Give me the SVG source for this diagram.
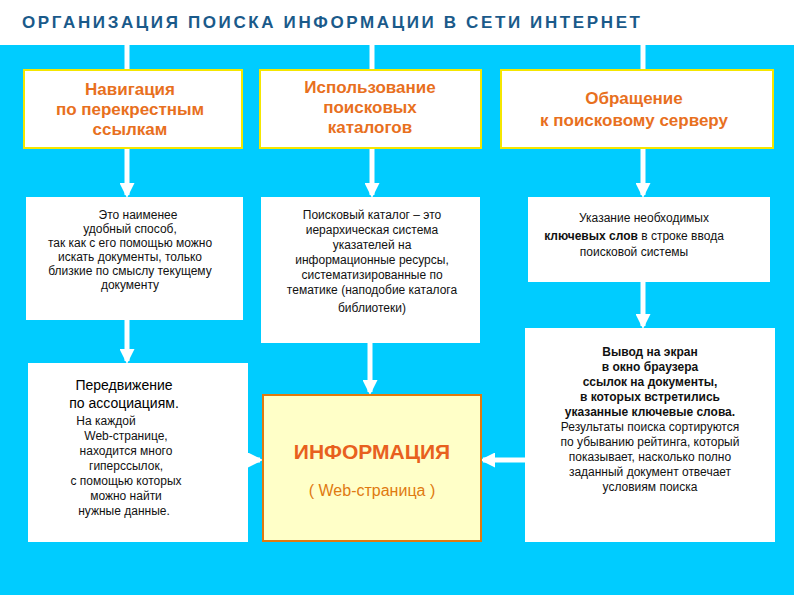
<svg xmlns="http://www.w3.org/2000/svg" width="794" height="595" viewBox="0 0 794 595">
<defs>
<style>
.t{font-family:"Liberation Sans",Arial,sans-serif;text-anchor:middle}
.h{font-size:17px;font-weight:bold;fill:#e8701e}
.s{font-size:12px;fill:#111}
.box{fill:#fff}
.hb{fill:#fff;stroke:#f5e600;stroke-width:2}
.c{stroke:#fff;stroke-width:5;fill:none}
</style>
<marker id="a" viewBox="0 0 10 10" refX="8" refY="5" markerWidth="3" markerHeight="3" orient="auto"><path d="M0,0L10,5L0,10z" fill="#fff"/></marker>
</defs>
<rect width="794" height="595" fill="#fff"/>
<rect y="45" width="794" height="550" fill="#00ccff"/>
<text x="22" y="28" textLength="618" lengthAdjust="spacing" style="font-family:'Liberation Sans',Arial,sans-serif;font-size:17px;font-weight:bold;fill:#1a5a8a">ОРГАНИЗАЦИЯ  ПОИСКА  ИНФОРМАЦИИ  В  СЕТИ  ИНТЕРНЕТ</text>
<g id="connectors">
<line class="c" x1="127" y1="45" x2="127" y2="70"/>
<line class="c" x1="372" y1="45" x2="372" y2="70"/>
<line class="c" x1="643" y1="45" x2="643" y2="70"/>
<line class="c" x1="127" y1="148" x2="127" y2="195" marker-end="url(#a)"/>
<line class="c" x1="372" y1="148" x2="372" y2="195" marker-end="url(#a)"/>
<line class="c" x1="643" y1="148" x2="643" y2="195" marker-end="url(#a)"/>
<line class="c" x1="127" y1="320" x2="127" y2="361" marker-end="url(#a)"/>
<line class="c" x1="370" y1="343" x2="370" y2="392" marker-end="url(#a)"/>
<line class="c" x1="643" y1="282" x2="643" y2="326" marker-end="url(#a)"/>
<line class="c" x1="248" y1="460" x2="260" y2="460" marker-end="url(#a)"/>
<line class="c" x1="525" y1="460" x2="483" y2="460" marker-end="url(#a)"/>
</g>
<g id="nav"><rect class="hb" x="24" y="70" width="218" height="78"/>
<text class="t h" x="130" y="95">Навигация</text><text class="t h" x="130" y="115">по перекрестным</text><text class="t h" x="130" y="135">ссылкам</text></g>
<g id="cat"><rect class="hb" x="260" y="70" width="221" height="78"/>
<text class="t h" x="370" y="93">Использование</text><text class="t h" x="370" y="113">поисковых</text><text class="t h" x="370" y="133">каталогов</text></g>
<g id="srv"><rect class="hb" x="501" y="70" width="272" height="78"/>
<text class="t h" x="634" y="104">Обращение</text><text class="t h" x="634" y="126">к поисковому серверу</text></g>
<g id="d1"><rect class="box" x="26" y="197" width="217" height="123"/>
<text class="t s" x="138" y="219">Это наименее</text><text class="t s" x="130" y="233">удобный способ,</text><text class="t s" x="130" y="247">так как с его помощью можно</text><text class="t s" x="130" y="261">искать документы, только</text><text class="t s" x="130" y="275">близкие по смыслу текущему</text><text class="t s" x="130" y="289">документу</text></g>
<g id="d2"><rect class="box" x="261" y="197" width="219" height="146"/>
<text class="t s" x="372" y="219">Поисковый каталог – это</text><text class="t s" x="372" y="234">иерархическая система</text><text class="t s" x="372" y="249">указателей на</text><text class="t s" x="372" y="264">информационные ресурсы,</text><text class="t s" x="372" y="279">систематизированные по</text><text class="t s" x="372" y="294">тематике (наподобие  каталога</text><text class="t s" x="372" y="312">библиотеки)</text></g>
<g id="d3"><rect class="box" x="528" y="197" width="242" height="85"/>
<text class="t s" x="644" y="222">Указание необходимых</text><text class="t s" x="634" y="240"><tspan font-weight="bold">ключевых слов</tspan> в строке ввода</text><text class="t s" x="634" y="256">поисковой системы</text></g>
<g id="assoc"><rect class="box" x="28" y="363" width="220" height="179"/>
<text class="t" x="124" y="390" style="font-size:14px">Передвижение</text><text class="t" x="124" y="408" style="font-size:14px">по ассоциациям.</text>
<text class="t s" x="106" y="425">На каждой</text><text class="t s" x="126" y="440">Web-странице,</text><text class="t s" x="126" y="455">находится много</text><text class="t s" x="126" y="470">гиперссылок,</text><text class="t s" x="126" y="485">с помощью которых</text><text class="t s" x="126" y="500">можно найти</text><text class="t s" x="124" y="515">нужные данные.</text></g>
<g id="info"><rect x="263" y="395" width="218" height="146" fill="#ffffc8" stroke="#e07a10" stroke-width="2"/>
<text class="t" x="372" y="459" style="font-size:21px;font-weight:bold;fill:#e8601e">ИНФОРМАЦИЯ</text>
<text class="t" x="372" y="496" style="font-size:16px;fill:#e07a10">( Web-страница )</text></g>
<g id="out"><rect class="box" x="525" y="328" width="250" height="214"/>
<g style="font-weight:bold"><text class="t s" x="650" y="356">Вывод на экран</text><text class="t s" x="650" y="371">в окно браузера</text><text class="t s" x="650" y="386">ссылок на документы,</text><text class="t s" x="650" y="401">в которых встретились</text><text class="t s" x="650" y="416">указанные ключевые слова.</text></g>
<text class="t s" x="650" y="431">Результаты поиска сортируются</text><text class="t s" x="650" y="446">по убыванию  рейтинга, который</text><text class="t s" x="650" y="461">показывает, насколько полно</text><text class="t s" x="650" y="476">заданный документ отвечает</text><text class="t s" x="650" y="491">условиям поиска</text></g>
</svg>
